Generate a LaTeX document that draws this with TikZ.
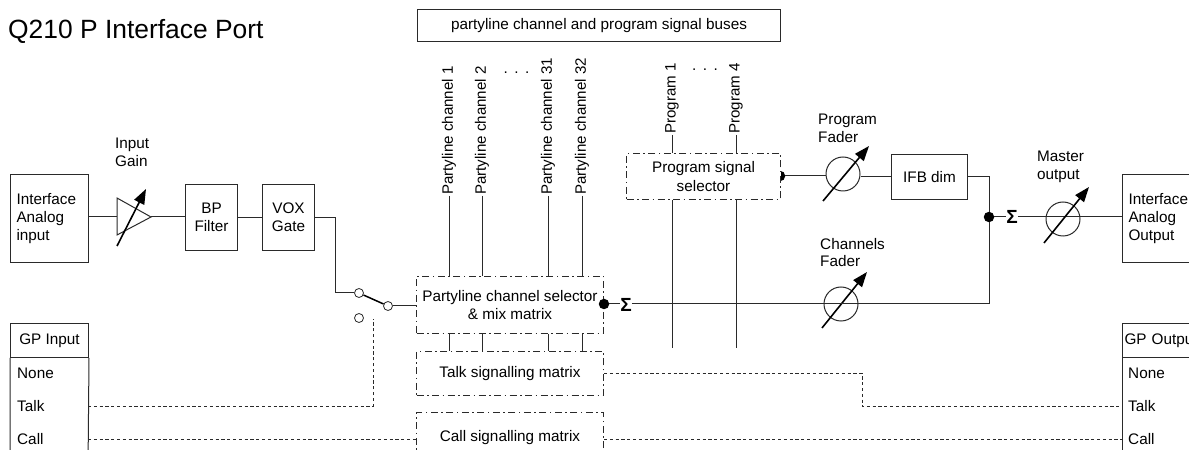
\documentclass[tikz,border=0pt]{standalone}
\usepackage{fontspec}
\setmainfont{Liberation Sans}
\usetikzlibrary{arrows.meta,calc}
\definecolor{ink}{HTML}{2A2A2A}
\tikzset{
  wire/.style={draw=ink,line width=1bp},
  sig/.style={draw=ink,line width=0.9bp,dash pattern=on 3.2bp off 2.6bp},
  box/.style={draw=ink,line width=1bp,fill=white,inner sep=0pt,align=center,anchor=north west,font=\fontsize{15.3bp}{18.4bp}\selectfont},
  ltxt/.style={box,align=left,inner xsep=6bp},
  matrixbox/.style={box,dash pattern=on 7bp off 3.5bp on 1.5bp off 3.5bp},
  lab/.style={inner sep=0pt,align=left,font=\fontsize{15.3bp}{17.5bp}\selectfont},
  vlab/.style={lab,rotate=90,anchor=west,inner sep=1bp,font=\fontsize{15.1bp}{17.5bp}\selectfont},
  rowlab/.style={lab,anchor=west},
  fader/.style={circle,draw=ink,line width=1bp,minimum size=34bp,inner sep=0pt},
  knob/.style={draw=black,line width=1.6bp,-{Triangle[length=15bp,width=11bp]}},
  term/.style={circle,draw=ink,line width=0.8bp,fill=white,minimum size=9bp,inner sep=0pt},
  joint/.style={circle,fill=black,minimum size=10.5bp,inner sep=0pt},
  sumsym/.style={inner sep=0pt,font=\fontsize{19bp}{19bp}\selectfont\bfseries},
  dotsl/.style={inner sep=0pt,font=\fontsize{15.3bp}{15bp}\selectfont}
}
\begin{document}
\begin{tikzpicture}[x=1bp,y=-1bp]
\clip (0,0) rectangle (1189,450);
\fill[white] (0,0) rectangle (1189,450);
\node[anchor=west,inner sep=0pt,font=\fontsize{26.4bp}{26.4bp}\selectfont] (title) at (8,31) {Q210 P Interface Port};
\node[box,minimum width=363bp,minimum height=32bp] (buses) at (417,9) {partyline channel and program signal buses};

% signal chain, left
\node[ltxt,text width=66bp,minimum height=88bp] (ain) at (10,174) {Interface\\Analog\\input};
\coordinate (gi) at (117,217);
\coordinate (go) at (151,217);
\draw[wire] (gi |- 0,198) -- (go) -- (gi |- 0,235) -- cycle;
\draw[knob] (117,246) -- (146,189);
\node[lab,anchor=north west] (gainlab) at (115,138) {Input\\Gain};
\node[box,minimum width=52bp,minimum height=66bp] (bp) at (185,184) {BP\\Filter};
\node[box,minimum width=52bp,minimum height=66bp] (vox) at (262,184) {VOX\\Gate};
\node[term] (sw1) at (359,293) {};
\node[term] (sw2) at (388,306) {};
\node[term] (sw3) at (359,318) {};
\draw[wire] (ain.east |- gi) -- (gi);
\draw[wire] (go) -- (go -| bp.west);
\draw[wire] (bp.east |- vox.west) -- (vox.west);
\draw[wire] (vox.east) -| (335,293) -- (sw1.west);
\draw[draw=black,line width=1.5bp] (sw1) -- (sw2);

% matrices
\node[matrixbox,minimum width=187bp,minimum height=57bp] (mix) at (416,276) {Partyline channel selector\\\& mix matrix};
\node[matrixbox,minimum width=187bp,minimum height=44bp] (talk) at (416,351) {Talk signalling matrix};
\node[matrixbox,minimum width=187bp,minimum height=50bp] (call) at (416,412) {Call signalling matrix};
\draw[wire] (sw2.east) -- (sw2.east -| mix.west);

% partyline buses
\foreach \n/\x/\t in {a/449/Partyline channel 1,b/482/Partyline channel 2,c/548/Partyline channel 31,d/582/Partyline channel 32}{
  \node[vlab] (pl\n) at (\x,196) {\t};
  \draw[wire] (pl\n.west) -- (pl\n.west |- mix.north);
  \draw[wire] (pl\n.west |- mix.south) -- (pl\n.west |- talk.north);
}
\node[dotsl] (pldots) at (516.5,73) {.\hspace{6.5bp}.\hspace{6.5bp}.};

% program buses
\coordinate (pend1) at (672,348);
\coordinate (pend4) at (736,348);
\node[vlab] (p1) at (672,135) {Program 1};
\node[vlab] (p4) at (736,135) {Program 4};
\node[dotsl] (pdots) at (705,70) {.\hspace{6.5bp}.\hspace{6.5bp}.};
\node[joint] (pjoint) at (780,176) {};
\node[matrixbox,minimum width=154bp,minimum height=46bp] (psel) at (626,153) {Program signal\\selector};
\draw[wire] (p1.west) -- (p1.west |- psel.north);
\draw[wire] (p4.west) -- (p4.west |- psel.north);
\draw[wire] (p1.west |- psel.south) -- (pend1);
\draw[wire] (p4.west |- psel.south) -- (pend4);

% right side
\node[fader] (pf) at (843,174) {};
\draw[knob] (823,201) -- (869,146);
\node[lab,anchor=north west] (pflab) at (818,114) {Program\\Fader};
\node[box,minimum width=76bp,minimum height=45bp] (ifb) at (891,154) {IFB dim};
\draw[wire] (pjoint) -- (pf.west |- pjoint);
\draw[wire] (pf.east |- ifb.west) -- (ifb.west);

\node[joint] (mjoint) at (604,304) {};
\node[sumsym] (msum) at (626,305) {Σ};
\draw[wire] (mjoint) -- (msum.west |- mjoint);
\node[joint] (ojoint) at (989,217) {};
\node[fader] (cf) at (841,304) {};
\draw[knob] (822,328) -- (867,272);
\node[lab,anchor=north west] (cflab) at (820,238) {Channels\\Fader};
\draw[wire] (msum.east |- mjoint) -- (ojoint |- mjoint) -- (ojoint);
\draw[wire] (ifb.east) -| (ojoint);

\node[sumsym] (osum) at (1012,217) {Σ};
\node[fader] (mf) at (1063,219) {};
\node[ltxt,text width=66bp,minimum height=88bp] (aout) at (1122,174) {Interface\\Analog\\Output};
\draw[wire] (ojoint) -- (osum.west);
\draw[wire] (osum.east) -- (aout.west |- osum.east);
\draw[knob] (1044,243) -- (1089,187);
\node[lab,anchor=north west] (mflab) at (1037,151) {Master\\output};

% GP tables
\node[box,minimum width=78bp,minimum height=34bp] (gin) at (10,323) {GP Input};
\draw[draw=ink,line width=1bp] (gin.south west) -- (10,470) (gin.south east) -- (88,470);
\node[rowlab] (gin1) at (17,373) {None};
\node[rowlab] (gin2) at (17,406) {Talk};
\node[rowlab] (gin3) at (17,439) {Call};
\node[box,minimum width=78bp,minimum height=34bp,inner xsep=2bp,text width=74bp,align=left] (gout) at (1122,323) {GP Output};
\draw[draw=ink,line width=1bp] (gout.south west) -- (1122,470);
\node[rowlab] (gout1) at (1128,373) {None};
\node[rowlab] (gout2) at (1128,406) {Talk};
\node[rowlab] (gout3) at (1128,439) {Call};

% control lines
\coordinate (swctl) at (373,319);
\coordinate (tk) at (862,373.4);
\draw[sig] (88,406) -| (swctl);
\draw[sig] (88,439) -- (call.west |- 0,439);
\draw[sig] (talk.east |- tk) -- (tk) -- (862,406.4) -- (1122,406.4);
\draw[sig] (call.east |- 0,439) -- (1122,439);
\end{tikzpicture}
\end{document}
